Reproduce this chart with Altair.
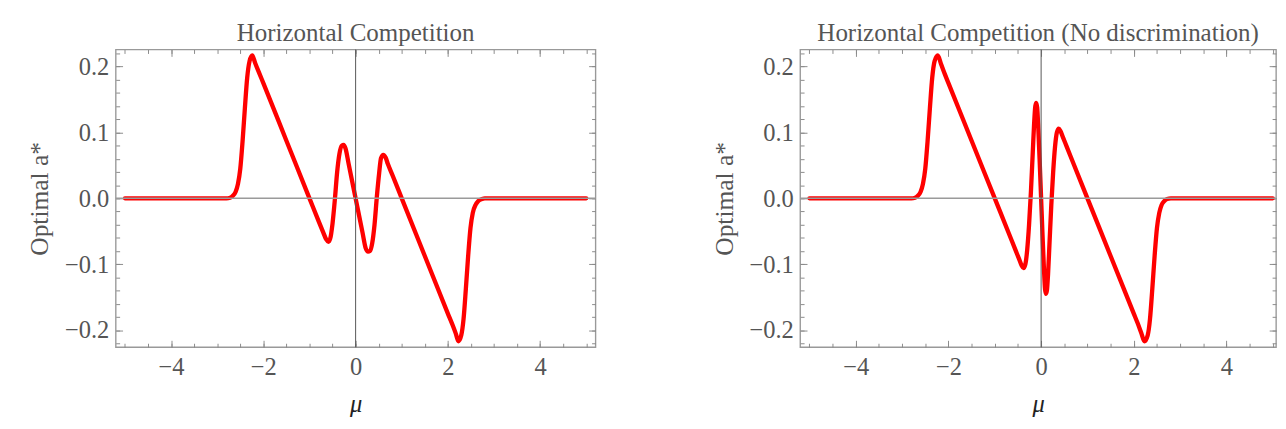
import altair as alt
import pandas as pd

# ---- data ----
MU_LEFT = [-5.0, -3.5, -2.8, -2.72, -2.66, -2.6, -2.55, -2.5, -2.45, -2.4,
           -2.35, -2.3, -2.24, -2.18, -2.1, -2.0, -1.5, -1.0, -0.8, -0.7,
           -0.64, -0.59, -0.55, -0.5, -0.45, -0.4, -0.35, -0.3, -0.26, -0.22,
           -0.15, 0.0, 0.15, 0.22, 0.27, 0.31, 0.36, 0.41, 0.46, 0.51,
           0.55, 0.6, 0.65, 0.7, 0.8, 1.0, 1.5, 2.0, 2.1, 2.17,
           2.23, 2.29, 2.34, 2.39, 2.44, 2.49, 2.54, 2.6, 2.66, 2.74,
           2.8, 3.5, 5.0]
A_LEFT = [0.0, 0.0, 0.0, 0.001, 0.004, 0.010, 0.022, 0.045, 0.087, 0.137,
          0.183, 0.208, 0.217, 0.206, 0.192, 0.175, 0.0875, 0.0, -0.035, -0.052,
          -0.062, -0.066, -0.061, -0.038, -0.002, 0.040, 0.068, 0.080, 0.081, 0.076,
          0.052, 0.0, -0.052, -0.076, -0.081, -0.080, -0.068, -0.040, 0.002, 0.038,
          0.061, 0.066, 0.062, 0.052, 0.035, 0.0, -0.0875, -0.175, -0.192, -0.205,
          -0.217, -0.208, -0.183, -0.137, -0.087, -0.045, -0.022, -0.010, -0.004, -0.001,
          0.0, 0.0, 0.0]

MU_RIGHT = [-5.0, -3.5, -2.8, -2.72, -2.66, -2.6, -2.55, -2.5, -2.45, -2.4,
            -2.35, -2.3, -2.23, -2.16, -2.08, -2.0, -1.5, -1.0, -0.7, -0.55,
            -0.47, -0.42, -0.38, -0.34, -0.3, -0.26, -0.22, -0.18, -0.15, -0.125,
            -0.105, -0.085, -0.06, -0.03, 0.0, 0.03, 0.06, 0.085, 0.105, 0.125,
            0.15, 0.18, 0.22, 0.26, 0.3, 0.34, 0.38, 0.42, 0.47, 0.55,
            0.7, 1.0, 1.5, 2.0, 2.08, 2.16, 2.23, 2.3, 2.35, 2.4,
            2.45, 2.5, 2.55, 2.6, 2.66, 2.72, 2.8, 3.5, 5.0]
A_RIGHT = [0.0, 0.0, 0.0, 0.001, 0.004, 0.010, 0.022, 0.045, 0.087, 0.137,
           0.183, 0.208, 0.217, 0.204, 0.189, 0.175, 0.0875, 0.0, -0.0525, -0.079,
           -0.093, -0.102, -0.106, -0.100, -0.078, -0.040, 0.010, 0.070, 0.115, 0.140,
           0.145, 0.138, 0.105, 0.055, 0.0, -0.055, -0.105, -0.138, -0.145, -0.140,
           -0.115, -0.070, -0.010, 0.040, 0.078, 0.100, 0.106, 0.102, 0.093, 0.079,
           0.0525, 0.0, -0.0875, -0.175, -0.189, -0.204, -0.217, -0.208, -0.183, -0.137,
           -0.087, -0.045, -0.022, -0.010, -0.004, -0.001, 0.0, 0.0, 0.0]

X_MAJOR = [-4, -2, 0, 2, 4]
X_MINOR = [-5.0, -4.5, -4.0, -3.5, -3.0, -2.5, -2.0, -1.5, -1.0, -0.5, 0.0,
           0.5, 1.0, 1.5, 2.0, 2.5, 3.0, 3.5, 4.0, 4.5, 5.0]
Y_MAJOR = [-0.2, -0.1, 0.0, 0.1, 0.2]
Y_MINOR = [-0.22, -0.2, -0.18, -0.16, -0.14, -0.12, -0.1, -0.08, -0.06, -0.04, -0.02, 0.0,
           0.02, 0.04, 0.06, 0.08, 0.1, 0.12, 0.14, 0.16, 0.18, 0.2, 0.22]
ZERO = [0.0]

TITLES = ["Horizontal Competition", "Horizontal Competition (No discrimination)"]
X_TITLE = "μ"
Y_TITLE = "Optimal a*"

SERIF = "Liberation Serif"
GRAY = "#555555"
TICK = "#8a8a8a"
Y_DOMAIN = [-0.226, 0.226]


def tick_axis(orient, values, size):
    return alt.Axis(orient=orient, values=values, offset=-size, tickSize=size,
                    tickColor=TICK, tickWidth=1, labels=False, domain=False,
                    grid=False, title=None)


def panel(mu, a, title, width, xdomain):
    df = pd.DataFrame({"mu": mu, "a": a})
    xs = alt.Scale(domain=xdomain, nice=False, zero=False)
    ys = alt.Scale(domain=Y_DOMAIN, nice=False, zero=False)
    base = alt.Chart(df)

    line = base.mark_line(color="#ff0000", strokeWidth=4.4, interpolate="monotone",
                          strokeCap="round", strokeJoin="round").encode(
        x=alt.X("mu:Q", scale=xs, axis=alt.Axis(
            orient="bottom", values=X_MAJOR, format="d", ticks=False, tickSize=0,
            domain=False, grid=False, labelFont=SERIF, labelFontSize=25,
            labelColor=GRAY, labelPadding=8, title=X_TITLE, titleFont=SERIF,
            titleFontSize=25, titleFontStyle="italic", titleFontWeight="normal",
            titleColor="#222222", titlePadding=13)),
        y=alt.Y("a:Q", scale=ys, axis=alt.Axis(
            orient="left", values=Y_MAJOR, format=".1f", ticks=False, tickSize=0,
            domain=False, grid=False, labelFont=SERIF, labelFontSize=25,
            labelColor=GRAY, labelPadding=7, title=Y_TITLE, titleFont=SERIF,
            titleFontSize=26, titleFontWeight="normal", titleColor=GRAY,
            titlePadding=12)),
    )

    layers = [line]
    for xo, yo, xv, yv, s in [("bottom", "left", X_MAJOR, Y_MAJOR, 7),
                              ("bottom", "left", X_MINOR, Y_MINOR, 4),
                              ("top", "right", X_MAJOR, Y_MAJOR, 7),
                              ("top", "right", X_MINOR, Y_MINOR, 4)]:
        layers.append(base.mark_point(opacity=0).encode(
            x=alt.X("mu:Q", scale=xs, axis=tick_axis(xo, xv, s)),
            y=alt.Y("a:Q", scale=ys, axis=tick_axis(yo, yv, s))))

    zdf = pd.DataFrame({"z": ZERO})
    hz = alt.Chart(zdf).mark_rule(color="#9a9a9a", strokeWidth=1.5).encode(
        y=alt.Y("z:Q", scale=ys, axis=None))
    vz = alt.Chart(zdf).mark_rule(color="#555555", strokeWidth=1).encode(
        x=alt.X("z:Q", scale=xs, axis=None))
    layers += [hz, vz]

    return alt.layer(*layers).resolve_axis(x="independent", y="independent").properties(
        width=width, height=304,
        title=alt.TitleParams(text=title, font=SERIF, fontSize=25.5, fontWeight="normal",
                              color=GRAY, anchor="middle", frame="group", offset=3))


left = panel(MU_LEFT, A_LEFT, TITLES[0], 490, [-5.2, 5.2])
right = panel(MU_RIGHT, A_RIGHT, TITLES[1], 486, [-5.2, 5.07])

chart = alt.hconcat(left, right, spacing=115).properties(
    padding={"left": 18, "top": 8, "right": 0, "bottom": 0},
    background="white",
).configure_view(stroke="#999999", strokeWidth=1.4).configure_axis(
    labelFont=SERIF, titleFont=SERIF)

chart.save("out.html", embed_options={"renderer": "svg", "actions": False})
